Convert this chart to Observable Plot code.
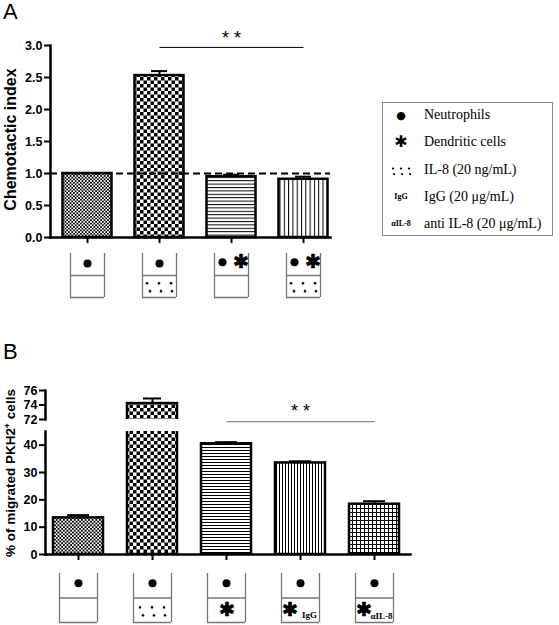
<!DOCTYPE html>
<html><head><meta charset="utf-8">
<script src="https://cdn.jsdelivr.net/npm/d3@7"></script>
<script src="https://cdn.jsdelivr.net/npm/@observablehq/plot@0.6"></script>
<style>
body{margin:0;background:#fff;}
#root{position:relative;width:559px;height:625px;overflow:hidden;font-family:"Liberation Sans",Arial,sans-serif;color:#000;}
.box{position:absolute;}
.box svg{overflow:visible;display:block;}
.panel{position:absolute;font-size:22px;line-height:24px;}
[aria-label$="axis tick"]{stroke-width:2px;}
#legend{position:absolute;left:382px;top:102px;width:171px;height:134px;border:1px solid #888;box-sizing:border-box;font-family:"Liberation Serif","Times New Roman",serif;font-size:14px;}
#legend .row{position:absolute;left:0;height:20px;width:100%;}
#legend .sym{position:absolute;left:0;width:36px;text-align:center;top:50%;transform:translateY(-50%);font-weight:bold;line-height:1;}
#legend .lab{position:absolute;left:41px;top:50%;transform:translateY(-50%);white-space:nowrap;}
</style></head><body>
<svg width="0" height="0" style="position:absolute">
<defs>
<pattern id="pFineA" width="3.4" height="3.4" patternUnits="userSpaceOnUse"><rect width="3.4" height="3.4" fill="#fff"/><rect width="1.7" height="1.7" fill="#000"/><rect x="1.7" y="1.7" width="1.7" height="1.7" fill="#000"/></pattern>
<pattern id="pChkA" width="7" height="7" patternUnits="userSpaceOnUse"><rect width="7" height="7" fill="#fff"/><rect width="3.5" height="3.5" fill="#000"/><rect x="3.5" y="3.5" width="3.5" height="3.5" fill="#000"/></pattern>
<pattern id="pHA" width="4" height="3.4" patternUnits="userSpaceOnUse"><rect width="4" height="3.4" fill="#fff"/><rect width="4" height="1" fill="#000"/></pattern>
<pattern id="pVA" width="4.3" height="4" patternUnits="userSpaceOnUse"><rect width="4.3" height="4" fill="#fff"/><rect width="1" height="4" fill="#000"/></pattern>
<pattern id="pFineB" width="3.6" height="3.6" patternUnits="userSpaceOnUse"><rect width="3.6" height="3.6" fill="#fff"/><rect width="1.8" height="1.8" fill="#000"/><rect x="1.8" y="1.8" width="1.8" height="1.8" fill="#000"/></pattern>
<pattern id="pChkB" width="7" height="7" patternUnits="userSpaceOnUse"><rect width="7" height="7" fill="#fff"/><rect width="3.5" height="3.5" fill="#000"/><rect x="3.5" y="3.5" width="3.5" height="3.5" fill="#000"/></pattern>
<pattern id="pHB" width="4" height="3" patternUnits="userSpaceOnUse"><rect width="4" height="3" fill="#fff"/><rect width="4" height="1" fill="#000"/></pattern>
<pattern id="pVB" width="3" height="4" patternUnits="userSpaceOnUse"><rect width="3" height="4" fill="#fff"/><rect width="1" height="4" fill="#000"/></pattern>
<pattern id="pGridB" width="4" height="4" patternUnits="userSpaceOnUse"><rect width="4" height="4" fill="#fff"/><rect width="4" height="1" fill="#000"/><rect width="1" height="4" fill="#000"/></pattern>
<pattern id="pIL8" x="0" y="0" width="1" height="1" patternUnits="objectBoundingBox"><g fill="#000"><circle cx="4" cy="6" r="1.3"/><circle cx="16" cy="6" r="1.3"/><circle cx="28" cy="6" r="1.3"/><circle cx="7" cy="14" r="1.3"/><circle cx="18" cy="14" r="1.3"/><circle cx="29" cy="14" r="1.3"/></g></pattern>
</defs></svg>
<div id="root"></div>
<script>
// ---------- Panel A data ----------
const condA = ["A1", "A2", "A3", "A4"];
const valueA = [1.0, 2.53, 0.95, 0.91];
const errA = [1.0, 2.60, 0.98, 0.95];
const patternA = ["url(#pFineA)", "url(#pChkA)", "url(#pHA)", "url(#pVA)"];
const ticksA = [0, 0.5, 1.0, 1.5, 2.0, 2.5, 3.0];
const refA = 1.0;
const sigA = {from: "A2", to: "A4", mid: "A3", y: 2.97, label: "* *"};
const labelA = "Chemotactic index";
const iconTopA = ["N", "N", "N+DC", "N+DC"];
const iconBottomA = ["", "IL8", "", "IL8"];

// ---------- Panel B data ----------
const condB = ["B1", "B2", "B3", "B4", "B5"];
const valueB = [13.4, 74.2, 40.5, 33.5, 18.4];
const errB = [14.4, 74.9, 41.1, 34.1, 19.5];
const patternB = ["url(#pFineB)", "url(#pChkB)", "url(#pHB)", "url(#pVB)", "url(#pGridB)"];
const ticksBLow = [0, 10, 20, 30, 40];
const ticksBHigh = [72, 74, 76];
const domainBLow = [0, 45];
const domainBHigh = [72, 76];
const sigB = {from: "B3", to: "B5", mid: "B4", y: 71.72, label: "* *"};
const labelB = "% of migrated PKH2\u207A cells";
const iconBottomB = ["", "IL8", "DC", "DC", "DC"];
const iconSubB = ["", "", "", "IgG", "\u03B1IL-8"];

// ---------- Legend data ----------
const legendSymbols = ["\u25CF", "\u2731", "IL8", "IgG", "\u03B1IL-8"];
const legendLabels = ["Neutrophils", "Dendritic cells", "IL-8 (20 ng/mL)", "IgG (20 \u03BCg/mL)", "anti IL-8 (20 \u03BCg/mL)"];

const dataA = condA.map((c, i) => ({cond: c, value: valueA[i], err: errA[i], pattern: patternA[i]}));
const dataB = condB.map((c, i) => ({cond: c, value: valueB[i], err: errB[i], pattern: patternB[i]}));
const iconA = condA.map((c, i) => ({cond: c, top: iconTopA[i], bottom: iconBottomA[i]}));
const iconB = condB.map((c, i) => ({cond: c, bottom: iconBottomB[i], sub: iconSubB[i]}));

const root = document.getElementById("root");
function place(node, left, top) {
  const d = document.createElement("div");
  d.className = "box"; d.style.left = left + "px"; d.style.top = top + "px";
  d.appendChild(node); root.appendChild(d);
}
const baseStyle = {fontFamily: "Liberation Sans, Arial, sans-serif", fontSize: "12.5px", fontWeight: "bold", color: "black", background: "transparent", overflow: "visible"};

// Panel labels
for (const [t, top] of [["A", 0], ["B", 340]]) {
  const s = document.createElement("div"); s.className = "panel"; s.textContent = t;
  s.style.left = "3px"; s.style.top = top + "px"; root.appendChild(s);
}

// ---------- Plot A ----------
const plotA = Plot.plot({
  width: 340, height: 245, marginLeft: 50, marginRight: 10, marginTop: 45, marginBottom: 8,
  style: baseStyle,
  x: {domain: condA, range: [51, 339], padding: 0, tickSize: 6, tickFormat: () => "", label: null},
  y: {domain: [0, 3], ticks: ticksA, tickFormat: d3.format(".1f"), tickSize: 6, tickPadding: 2, label: null},
  color: {type: "identity"},
  marks: [
    Plot.barY(dataA, {x: "cond", y: "value", fill: "pattern", stroke: "black", strokeWidth: 2.5, insetLeft: 11.5, insetRight: 11.5}),
    Plot.ruleX(dataA.filter(d => d.err > d.value), {x: "cond", y1: "value", y2: "err", strokeWidth: 2}),
    Plot.tickY(dataA.filter(d => d.err > d.value), {x: "cond", y: "err", strokeWidth: 2, insetLeft: 28, insetRight: 28}),
    Plot.ruleY([refA], {strokeDasharray: "7,4", strokeWidth: 2}),
    Plot.link([sigA], {x1: "from", x2: "to", y1: "y", y2: "y", stroke: "black", strokeWidth: 1}),
    Plot.text([sigA], {x: "mid", y: "y", text: "label", dy: -9, fontSize: 18, fontWeight: "normal"}),
    Plot.text([labelA], {frameAnchor: "left", textAnchor: "middle", rotate: -90, dx: -40, dy: -2, fontSize: 16, fontWeight: "bold", text: d => d}),
    Plot.frame({anchor: "left", strokeWidth: 2.5}),
    Plot.frame({anchor: "bottom", strokeWidth: 2.5})
  ]
});
place(plotA, 0, 0);

// ---------- Icons A ----------
const iconPlotA = Plot.plot({
  width: 340, height: 50, marginLeft: 50, marginRight: 10, marginTop: 3, marginBottom: 3,
  style: baseStyle,
  x: {domain: condA, range: [51, 339], padding: 0, axis: null},
  y: {domain: [0, 1], axis: null},
  marks: [
    Plot.ruleX(iconA, {x: "cond", y1: 0, y2: 1, dx: -17, stroke: "#777", strokeWidth: 1.3}),
    Plot.ruleX(iconA, {x: "cond", y1: 0, y2: 1, dx: 17, stroke: "#777", strokeWidth: 1.3}),
    Plot.tickY(iconA, {x: "cond", y: 0, insetLeft: 19, insetRight: 19, stroke: "#777", strokeWidth: 1.3}),
    Plot.tickY(iconA, {x: "cond", y: 0.5, insetLeft: 19, insetRight: 19, stroke: "#777", strokeWidth: 1.3}),
    Plot.dot(iconA.filter(d => d.top === "N"), {x: "cond", y: 0.77, r: 4, fill: "black"}),
    Plot.dot(iconA.filter(d => d.top === "N+DC"), {x: "cond", y: 0.8, r: 4, fill: "black", dx: -9}),
    Plot.text(iconA.filter(d => d.top === "N+DC"), {x: "cond", y: 0.8, text: () => "\u2731", fontSize: 19, dx: 9}),
    Plot.barY(iconA.filter(d => d.bottom === "IL8"), {x: "cond", y1: 0.06, y2: 0.45, insetLeft: 20, insetRight: 20, fill: "url(#pIL8)"})
  ]
});
place(iconPlotA, 0, 250);

// ---------- Plot B upper (broken axis) ----------
const plotBHigh = Plot.plot({
  width: 420, height: 40, marginLeft: 45, marginRight: 10, marginTop: 10, marginBottom: 1,
  style: baseStyle,
  x: {domain: condB, range: [41, 411], padding: 0, axis: null},
  y: {domain: domainBHigh, ticks: ticksBHigh, tickFormat: d3.format("d"), tickSize: 6, tickPadding: 2, label: null},
  color: {type: "identity"},
  marks: [
    Plot.barY(dataB, {x: "cond", y: "value", fill: "pattern", stroke: "black", strokeWidth: 2.5, insetLeft: 12, insetRight: 12, clip: true}),
    Plot.ruleX(dataB, {x: "cond", y1: "value", y2: "err", strokeWidth: 2, clip: true}),
    Plot.tickY(dataB, {x: "cond", y: "err", strokeWidth: 2, insetLeft: 28, insetRight: 28, clip: true}),
    Plot.link([sigB], {x1: "from", x2: "to", y1: "y", y2: "y", stroke: "#888", strokeWidth: 1.2}),
    Plot.text([sigB], {x: "mid", y: "y", text: "label", dy: -10, fontSize: 18, fontWeight: "normal"}),
    Plot.frame({anchor: "left", strokeWidth: 2.5})
  ]
});
place(plotBHigh, 0, 380);

// ---------- Plot B lower ----------
const plotBLow = Plot.plot({
  width: 420, height: 142, marginLeft: 45, marginRight: 10, marginTop: 11, marginBottom: 8,
  style: baseStyle,
  x: {domain: condB, range: [41, 411], padding: 0, tickSize: 6, tickFormat: () => "", label: null},
  y: {domain: domainBLow, ticks: ticksBLow, tickSize: 6, tickPadding: 2, label: null},
  color: {type: "identity"},
  marks: [
    Plot.barY(dataB, {x: "cond", y: "value", fill: "pattern", stroke: "black", strokeWidth: 2.5, insetLeft: 12, insetRight: 12, clip: true}),
    Plot.ruleX(dataB, {x: "cond", y1: "value", y2: "err", strokeWidth: 2, clip: true}),
    Plot.tickY(dataB, {x: "cond", y: "err", strokeWidth: 2, insetLeft: 26, insetRight: 26, clip: true}),
    Plot.text([labelB], {frameAnchor: "left", textAnchor: "middle", rotate: -90, dx: -35, dy: -20, fontSize: 13.5, fontWeight: "bold", text: d => d}),
    Plot.frame({anchor: "left", strokeWidth: 2.5}),
    Plot.frame({anchor: "bottom", strokeWidth: 2.5})
  ]
});
place(plotBLow, 0, 420);

// ---------- Icons B ----------
const iconPlotB = Plot.plot({
  width: 420, height: 55, marginLeft: 45, marginRight: 10, marginTop: 3, marginBottom: 3,
  style: baseStyle,
  x: {domain: condB, range: [41, 411], padding: 0, axis: null},
  y: {domain: [0, 1], axis: null},
  marks: [
    Plot.ruleX(iconB, {x: "cond", y1: 0, y2: 1, dx: -19, stroke: "#777", strokeWidth: 1.3}),
    Plot.ruleX(iconB, {x: "cond", y1: 0, y2: 1, dx: 19, stroke: "#777", strokeWidth: 1.3}),
    Plot.tickY(iconB, {x: "cond", y: 0, insetLeft: 18, insetRight: 18, stroke: "#777", strokeWidth: 1.3}),
    Plot.tickY(iconB, {x: "cond", y: 0.5, insetLeft: 18, insetRight: 18, stroke: "#777", strokeWidth: 1.3}),
    Plot.dot(iconB, {x: "cond", y: 0.8, r: 4, fill: "black"}),
    Plot.barY(iconB.filter(d => d.bottom === "IL8"), {x: "cond", y1: 0.04, y2: 0.42, insetLeft: 21, insetRight: 21, fill: "url(#pIL8)"}),
    Plot.text(iconB.filter(d => d.bottom === "DC" && !d.sub), {x: "cond", y: 0.26, text: () => "\u2731", fontSize: 19}),
    Plot.text(iconB.filter(d => d.bottom === "DC" && d.sub), {x: "cond", y: 0.26, text: () => "\u2731", fontSize: 19, dx: -11}),
    Plot.text(iconB.filter(d => d.sub === "IgG"), {x: "cond", y: 0.15, text: "sub", fontSize: 9, fontWeight: "bold", fontFamily: "Liberation Serif, serif", dx: 9}),
    Plot.text(iconB.filter(d => d.sub && d.sub !== "IgG"), {x: "cond", y: 0.13, text: "sub", fontSize: 9, fontWeight: "bold", fontFamily: "Liberation Serif, serif", dx: 7})
  ]
});
place(iconPlotB, 0, 570);

// ---------- Legend ----------
const leg = document.createElement("div"); leg.id = "legend";
const rowCenters = [12, 39, 67, 94, 121];
legendLabels.forEach((lab, i) => {
  const r = document.createElement("div"); r.className = "row"; r.style.top = (rowCenters[i] - 10) + "px";
  const s = document.createElement("div"); s.className = "sym";
  const sym = legendSymbols[i];
  if (sym === "IL8") { s.innerHTML = '<svg width="20" height="10" style="display:inline-block;vertical-align:middle"><g fill="#000"><circle cx="2" cy="2.5" r="1.1"/><circle cx="10" cy="2.5" r="1.1"/><circle cx="18" cy="2.5" r="1.1"/><circle cx="3" cy="8" r="1.1"/><circle cx="11" cy="8" r="1.1"/><circle cx="19" cy="8" r="1.1"/></g></svg>'; }
  else if (sym === "\u25CF") { s.textContent = sym; s.style.fontSize = "11px"; s.style.fontFamily = "DejaVu Sans"; }
  else if (sym === "\u2731") { s.textContent = sym; s.style.fontSize = "16px"; s.style.fontFamily = "DejaVu Sans"; }
  else { s.textContent = sym; s.style.fontSize = "8px"; }
  const l = document.createElement("div"); l.className = "lab"; l.textContent = lab;
  r.appendChild(s); r.appendChild(l); leg.appendChild(r);
});
root.appendChild(leg);
</script>
</body></html>
